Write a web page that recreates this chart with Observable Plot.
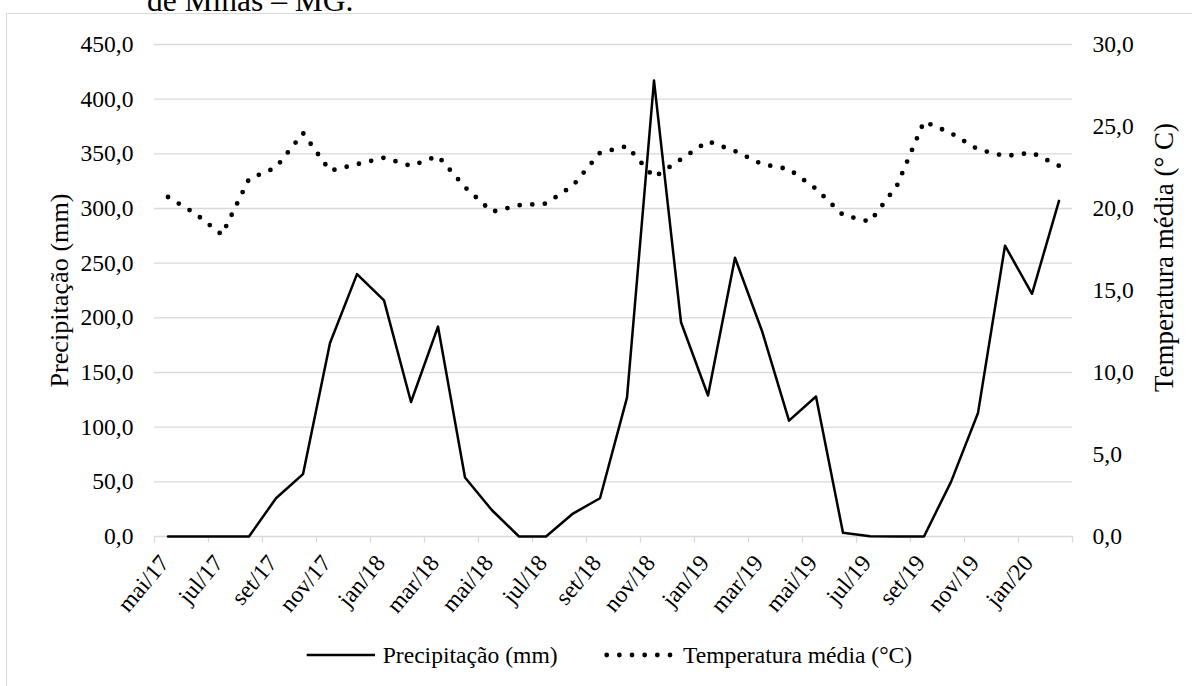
<!DOCTYPE html>
<html><head><meta charset="utf-8">
<script src="https://cdn.jsdelivr.net/npm/d3@7"></script>
<script src="https://cdn.jsdelivr.net/npm/@observablehq/plot@0.6"></script>
<style>
body{margin:0;background:#fff;}
#wrap{position:relative;width:1192px;height:686px;overflow:hidden;background:#fff;font-family:"Liberation Serif","Times New Roman",serif;color:#000}
#caption{position:absolute;left:147px;top:-15px;font-size:31.5px;line-height:1;white-space:nowrap}
#frame{position:absolute;left:6px;top:13px;width:1300px;height:800px;border:1.3px solid #d9d9d9;box-sizing:border-box}
#chart{position:absolute;left:0;top:0}
.lg{position:absolute;font-size:23.6px;line-height:24px;white-space:nowrap}
.sw{position:absolute}
</style>
</head><body>
<div id="wrap">
  <div id="caption">de Minas – MG.</div>
  <div id="frame"></div>
  <div id="chart"></div>
  <svg class="sw" style="left:306px;top:645px" width="72" height="20"><line x1="0.7" x2="69" y1="10" y2="10" stroke="#000" stroke-width="2.5"/></svg>
  <div class="lg" style="left:382.7px;top:643px">Precipitação (mm)</div>
  <svg class="sw" style="left:600px;top:645px" width="80" height="20"><line x1="6.7" x2="71" y1="10" y2="10" stroke="#000" stroke-width="4.8" stroke-linecap="round" stroke-dasharray="0 12.66"/></svg>
  <div class="lg" style="left:683px;top:643px">Temperatura média (°C)</div>
</div>
<script>
const months = ["mai/17","jun/17","jul/17","ago/17","set/17","out/17","nov/17","dez/17",
  "jan/18","fev/18","mar/18","abr/18","mai/18","jun/18","jul/18","ago/18","set/18","out/18","nov/18","dez/18",
  "jan/19","fev/19","mar/19","abr/19","mai/19","jun/19","jul/19","ago/19","set/19","out/19","nov/19","dez/19",
  "jan/20","fev/20"];
const precip = [0,0,0,0,35,57,177,240,216,123,192,54,24,0,0,21,35,127,417,196,129,255,188,106,128,3.4,0.3,0,0,50,113,266,222,307];
const temp = [20.7,19.7,18.4,21.8,22.5,24.6,22.3,22.7,23.1,22.6,23.2,21.3,19.8,20.2,20.3,21.4,23.4,23.8,21.9,23.0,24.1,23.5,22.7,22.4,21.2,19.6,19.2,21.4,25.3,24.6,23.6,23.2,23.4,22.6];
const mmTicks = [0,50,100,150,200,250,300,350,400,450];
const tempTicks = [0,5,10,15,20,25,30];
const leftTitle = "Precipitação (mm)";
const rightTitle = "Temperatura média (° C)";

const ratio = 450 / 30;
const fmt = v => v.toFixed(1).replace(".", ",");
const boundaries = d3.range(-0.5, months.length, 2);
const labelIdx = d3.range(0, months.length - 1, 2);

const chart = Plot.plot({
  width: 1192, height: 620,
  marginLeft: 154, marginRight: 120, marginTop: 44, marginBottom: 84,
  x: {domain: [-0.5, months.length - 0.5]},
  y: {domain: [0, 450]},
  style: {fontFamily: "'Liberation Serif', 'Times New Roman', serif", fontSize: "23.6px", color: "#000", background: "transparent", overflow: "visible"},
  marks: [
    Plot.ruleY(mmTicks, {stroke: "#d9d9d9", strokeWidth: 1.3}),
    Plot.axisY({ticks: mmTicks, tickFormat: fmt, tickSize: 0, tickPadding: 21, label: null}),
    Plot.axisY({anchor: "right", ticks: tempTicks.map(t => t * ratio), tickFormat: v => fmt(v / ratio), tickSize: 0, tickPadding: 20, label: null}),
    Plot.axisX({ticks: boundaries, tickFormat: () => "", tickSize: 6.5, stroke: "#d9d9d9", strokeWidth: 1.3, strokeOpacity: 1, label: null}),
    Plot.axisX({ticks: labelIdx, tickFormat: i => months[i], tickSize: 0, tickPadding: 22, tickRotate: -50, dx: -3.5, label: null}),
    Plot.text([leftTitle], {text: d => d, frameAnchor: "left", dx: -95, rotate: -90, fontSize: 26.2, textAnchor: "middle", lineAnchor: "middle"}),
    Plot.text([rightTitle], {text: d => d, frameAnchor: "right", dx: 92, dy: -33, rotate: -90, fontSize: 27, textAnchor: "middle", lineAnchor: "middle"}),
    Plot.line(precip, {x: (d, i) => i, y: d => d, stroke: "#000", strokeWidth: 2.5}),
    Plot.line(temp, {x: (d, i) => i, y: d => d * ratio, stroke: "#000", strokeWidth: 4.8, strokeDasharray: "0 12.6", strokeLinecap: "round"})
  ]
});
document.getElementById("chart").appendChild(chart);
</script>
</body></html>
